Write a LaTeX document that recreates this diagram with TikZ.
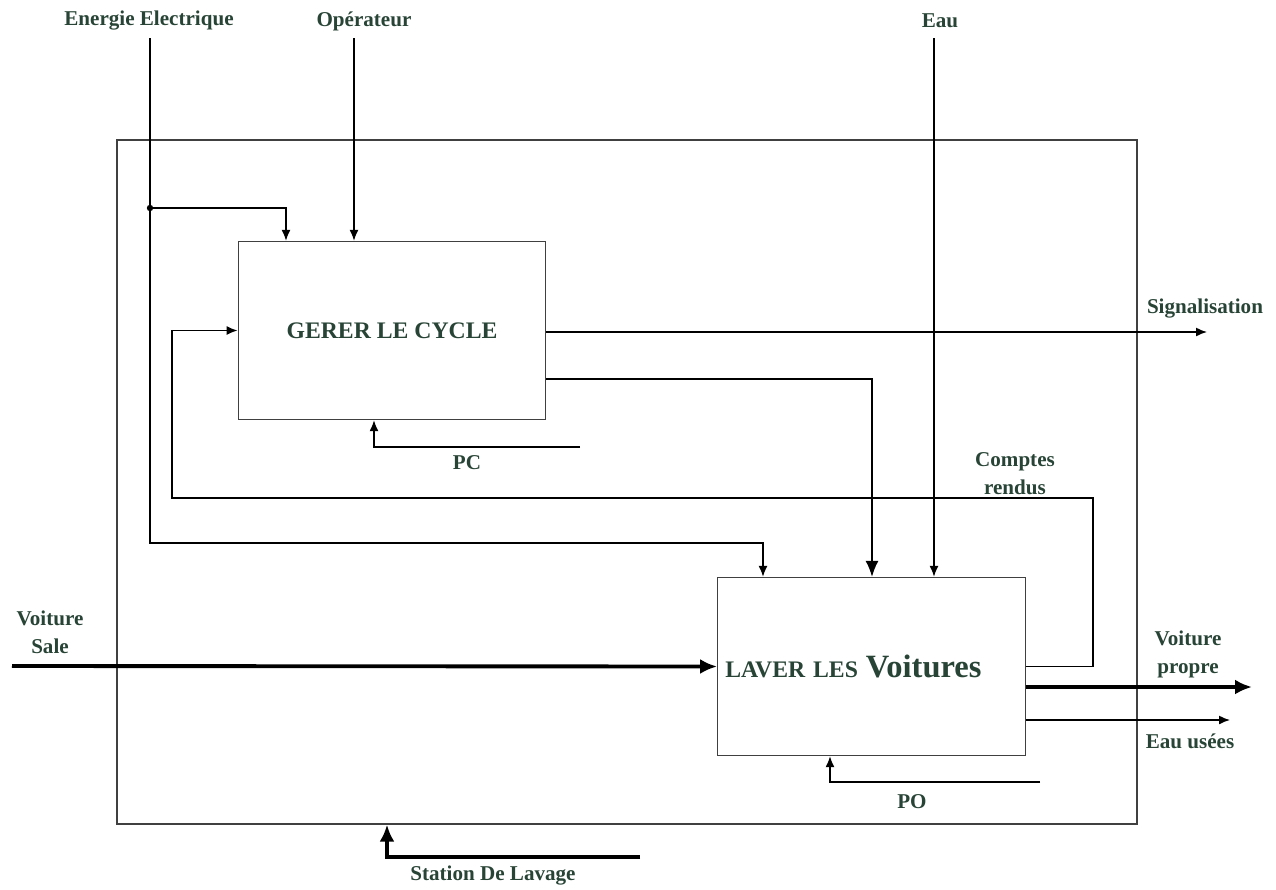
\documentclass[tikz,border=0pt]{standalone}
\usepackage{fontspec}
\setmainfont{Liberation Serif}
\usetikzlibrary{arrows.meta,positioning}
\definecolor{labelgreen}{RGB}{40,68,54}

\begin{document}
\begin{tikzpicture}[
  x=0.02cm, y=-0.02cm,
  frame/.style={draw=black!75, line width=0.8pt, minimum width=20.4cm, minimum height=13.68cm, inner sep=0pt},
  func/.style={draw=black!75, line width=0.8pt, minimum width=6.15cm, minimum height=3.56cm, align=center, text=labelgreen, font=\bfseries\fontsize{13.5}{15}\selectfont},
  lbl/.style={text=labelgreen, align=center, inner sep=1pt, font=\bfseries\fontsize{12}{16}\selectfont},
  arrow/.style={-{Latex[length=2.2mm, width=1.8mm]}, line width=0.8pt},
  bigarrow/.style={-{Latex[length=3.2mm, width=2.6mm]}, line width=0.8pt},
  thickarrow/.style={-{Latex[length=3.4mm, width=3mm]}, line width=2.2pt},
  plain/.style={line width=0.8pt}
]
\useasboundingbox (0,0) rectangle (1276,890);

\node[frame] (station box) at (627,482) {};
\node[func] (gerer) at (392,330.5) {GERER LE CYCLE};
\node[func, text width=5.85cm, align=left] (laver) at (871.5,666.5) {LAVER LES {\fontsize{18.5}{20}\selectfont Voitures}};

\node[lbl] (energie) at (149,21) {Energie Electrique};
\node[lbl] (operateur) at (364,21) {Opérateur};
\node[lbl] (eau) at (940,21) {Eau};
\node[lbl] (signal) at (1205,309) {Signalisation};
\node[lbl] (comptes) at (1015,474) {Comptes\\rendus};
\node[lbl] (sale) at (50,632) {Voiture\\Sale};
\node[lbl] (propre) at (1188,654) {Voiture\\propre};
\node[lbl] (usees) at (1190,741) {Eau usées};
\node[lbl] (pc) at (467,463) {PC};
\node[lbl] (po) at (912,802) {PO};
\node[lbl] (station) at (493,876) {Station De Lavage};

\coordinate (e top) at (150,38);
\coordinate (e branch) at (150,208);
\coordinate (e gerer) at (286,208);
\coordinate (e laver) at (763,543);
\coordinate (o top) at (354,38);
\coordinate (w top) at (934,38);
\coordinate (sig end) at (1207,332);
\coordinate (gl bend) at (872,379);
\coordinate (pc start) at (580,447);
\coordinate (pc bend) at (374,447);
\coordinate (cr right) at (1093,498);
\coordinate (cr left) at (172,498);
\coordinate (vs start) at (12,666);
\coordinate (vp end) at (1252,687);
\coordinate (eu end) at (1230,720);
\coordinate (po start) at (1040,782);
\coordinate (po bend) at (830,782);
\coordinate (st start) at (640,857);
\coordinate (st bend) at (387,857);

\draw[arrow] (e top) |- (e laver) -- (e laver |- laver.north);
\fill (e branch) circle (3.2);
\draw[arrow] (e branch) -- (e gerer) -- (e gerer |- gerer.north);
\draw[arrow] (o top) -- (o top |- gerer.north);
\draw[arrow] (w top) -- (w top |- laver.north);
\draw[arrow] (gerer.east |- sig end) -- (sig end);
\draw[bigarrow] (gerer.east |- gl bend) -- (gl bend) -- (gl bend |- laver.north);
\draw[arrow] (pc start) -- (pc bend) -- (pc bend |- gerer.south);
\draw[arrow] (laver.east) -| (cr right) -- (cr left) |- (gerer.west);
\draw[thickarrow] (vs start) -- (laver.west);
\draw[thickarrow] (laver.east |- vp end) -- (vp end);
\draw[arrow] (laver.east |- eu end) -- (eu end);
\draw[arrow] (po start) -- (po bend) -- (po bend |- laver.south);
\draw[thickarrow] (st start) -- (st bend) -- (st bend |- station box.south);
\end{tikzpicture}
\end{document}
